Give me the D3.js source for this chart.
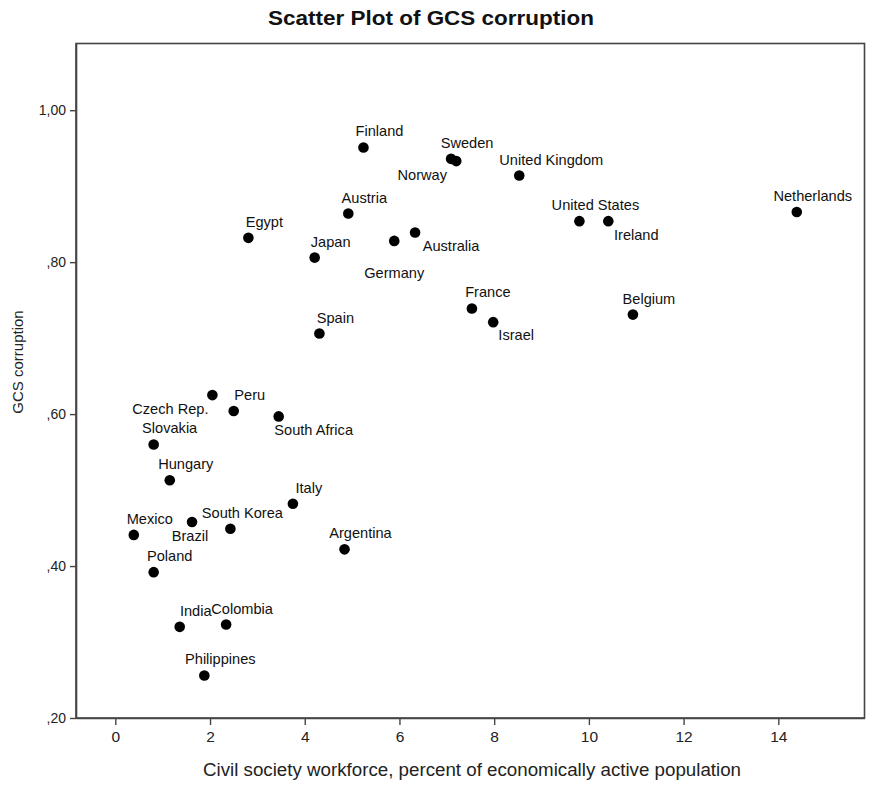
<!DOCTYPE html>
<html>
<head>
<meta charset="utf-8">
<script src="https://cdn.jsdelivr.net/npm/d3@7/dist/d3.min.js"></script>
<style>
  html, body { margin: 0; padding: 0; background: #fff; }
  svg { display: block; }
  .narrow { font-family: "Liberation Sans Narrow", "Arial Narrow", "Liberation Sans", Arial, sans-serif; }
  .regular { font-family: "Liberation Sans", Arial, sans-serif; }
</style>
</head>
<body>
<svg id="chart" width="873" height="787"></svg>
<script>
// Countries and their values
const countries = [
  "Finland", "Sweden", "Norway", "United Kingdom", "Austria", "Australia", "Germany",
  "United States", "Ireland", "Netherlands", "Belgium", "Egypt", "Japan", "Spain",
  "France", "Israel", "Czech Rep.", "Peru", "South Africa", "Slovakia", "Hungary",
  "Italy", "Brazil", "South Korea", "Mexico", "Argentina", "Poland", "India",
  "Colombia", "Philippines"
];
const workforce = [
  5.24, 7.09, 7.20, 8.53, 4.92, 6.33, 5.89,
  9.80, 10.41, 14.39, 10.93, 2.81, 4.21, 4.31,
  7.53, 7.98, 2.05, 2.50, 3.45, 0.81, 1.15,
  3.75, 1.62, 2.43, 0.39, 4.84, 0.81, 1.36,
  2.34, 1.88
];
const corruption = [
  0.951, 0.936, 0.933, 0.914, 0.864, 0.839, 0.828,
  0.854, 0.854, 0.866, 0.731, 0.832, 0.806, 0.706,
  0.739, 0.721, 0.625, 0.604, 0.597, 0.560, 0.513,
  0.482, 0.458, 0.449, 0.441, 0.422, 0.392, 0.320,
  0.323, 0.256
];
const xTicks = [0, 2, 4, 6, 8, 10, 12, 14];
const yTicks = [0.2, 0.4, 0.6, 0.8, 1.0];
const yTickLabels = [",20", ",40", ",60", ",80", "1,00"];

// Label offsets (pixels) from each marker: text centre x, baseline y
const labelOffset = {
  "Norway": [-34, 19], "Germany": [0, 37], "Australia": [36, 18], "Ireland": [28, 19],
  "Israel": [23, 18], "Czech Rep.": [-42, 19], "South Africa": [35, 19],
  "Brazil": [-2, 19], "South Korea": [12, -11], "United Kingdom": [32, -11]
};
const defaultOffset = [16, -11];

const svg = d3.select("#chart");
const plotLeft = 76, plotRight = 864.5, plotTop = 43.5, plotBottom = 718;

const x = d3.scaleLinear().domain([-0.83, 15.82]).range([plotLeft, plotRight]);
const y = d3.scaleLinear().domain([0.2, 1.0878]).range([plotBottom, plotTop]);

// Title (condensed face)
svg.append("text")
  .attr("class", "narrow")
  .attr("x", 431).attr("y", 25)
  .attr("text-anchor", "middle")
  .attr("font-size", 21).attr("font-weight", "bold")
  .attr("textLength", 326).attr("lengthAdjust", "spacingAndGlyphs")
  .attr("fill", "#111")
  .text("Scatter Plot of GCS corruption");

// Plot frame
svg.append("rect")
  .attr("x", plotLeft).attr("y", plotTop)
  .attr("width", plotRight - plotLeft).attr("height", plotBottom - plotTop)
  .attr("fill", "none").attr("stroke", "#444").attr("stroke-width", 1.6);

// X axis
const xAxis = d3.axisBottom(x).tickValues(xTicks).tickSize(7).tickSizeOuter(0).tickPadding(6);
const gx = svg.append("g").attr("transform", `translate(0,${plotBottom})`).call(xAxis);
gx.select(".domain").attr("stroke", "#444").attr("stroke-width", 1.6);
gx.selectAll(".tick line").attr("stroke", "#444").attr("stroke-width", 1.4);
gx.selectAll(".tick text").attr("class", "narrow").attr("font-size", 15.5).attr("fill", "#222");

// Y axis
const yAxis = d3.axisLeft(y).tickValues(yTicks)
  .tickFormat((d, i) => yTickLabels[i]).tickSize(6).tickSizeOuter(0).tickPadding(4);
const gy = svg.append("g").attr("transform", `translate(${plotLeft},0)`).call(yAxis);
gy.select(".domain").attr("stroke", "#444").attr("stroke-width", 1.6);
gy.selectAll(".tick line").attr("stroke", "#444").attr("stroke-width", 1.4);
gy.selectAll(".tick text").attr("class", "regular").attr("font-size", 14).attr("fill", "#222");

// Axis titles
svg.append("text")
  .attr("class", "narrow")
  .attr("x", 472).attr("y", 776)
  .attr("text-anchor", "middle")
  .attr("font-size", 17.5).attr("fill", "#222")
  .attr("textLength", 538).attr("lengthAdjust", "spacingAndGlyphs")
  .text("Civil society workforce, percent of economically active population");

svg.append("text")
  .attr("class", "regular")
  .attr("transform", "translate(23,362) rotate(-90)")
  .attr("text-anchor", "middle")
  .attr("font-size", 15).attr("fill", "#222")
  .text("GCS corruption");

// Points and labels
const data = countries.map((c, i) => ({ name: c, wf: workforce[i], gcs: corruption[i] }));

const pts = svg.append("g");
pts.selectAll("circle").data(data).join("circle")
  .attr("cx", d => x(d.wf)).attr("cy", d => y(d.gcs))
  .attr("r", 5.3).attr("fill", "#000");

pts.selectAll("text").data(data).join("text")
  .attr("class", "regular")
  .attr("x", d => x(d.wf) + (labelOffset[d.name] || defaultOffset)[0])
  .attr("y", d => y(d.gcs) + (labelOffset[d.name] || defaultOffset)[1])
  .attr("text-anchor", "middle")
  .attr("font-size", 14.6).attr("fill", "#111")
  .text(d => d.name);
</script>
</body>
</html>
